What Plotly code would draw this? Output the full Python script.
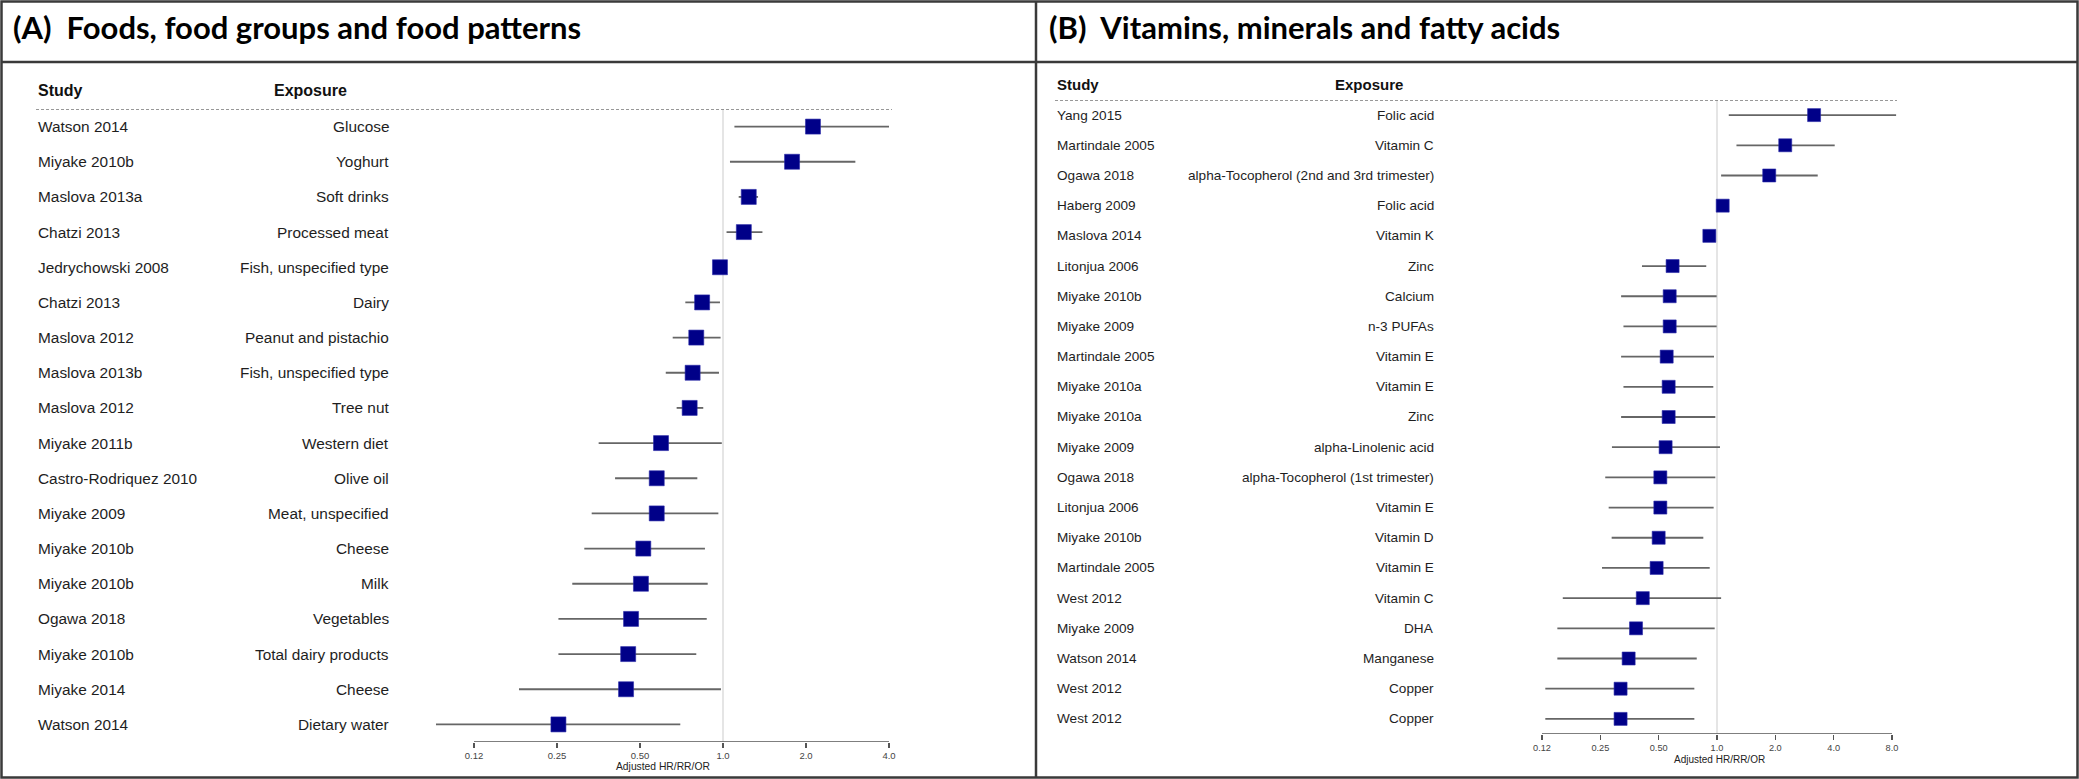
import math
import plotly.graph_objects as go

# ---------------- data ----------------
left_study = ["Watson 2014", "Miyake 2010b", "Maslova 2013a", "Chatzi 2013", "Jedrychowski 2008",
              "Chatzi 2013", "Maslova 2012", "Maslova 2013b", "Maslova 2012", "Miyake 2011b",
              "Castro-Rodriquez 2010", "Miyake 2009", "Miyake 2010b", "Miyake 2010b", "Ogawa 2018",
              "Miyake 2010b", "Miyake 2014", "Watson 2014"]
left_exposure = ["Glucose", "Yoghurt", "Soft drinks", "Processed meat", "Fish, unspecified type",
                 "Dairy", "Peanut and pistachio", "Fish, unspecified type", "Tree nut", "Western diet",
                 "Olive oil", "Meat, unspecified", "Cheese", "Milk", "Vegetables",
                 "Total dairy products", "Cheese", "Dietary water"]
left_est = [2.12, 1.78, 1.24, 1.19, 0.975, 0.84, 0.80, 0.776, 0.757, 0.596, 0.575, 0.575,
            0.514, 0.504, 0.464, 0.453, 0.445, 0.253]
left_lo = [1.10, 1.06, 1.14, 1.03, 0.95, 0.73, 0.657, 0.62, 0.679, 0.354, 0.406, 0.334,
           0.314, 0.284, 0.253, 0.253, 0.182, 0.091]
left_hi = [4.0, 3.02, 1.34, 1.39, 0.99, 0.975, 0.98, 0.967, 0.848, 0.99, 0.807, 0.962,
           0.86, 0.88, 0.873, 0.80, 0.983, 0.70]

right_study = ["Yang 2015", "Martindale 2005", "Ogawa 2018", "Haberg 2009", "Maslova 2014",
               "Litonjua 2006", "Miyake 2010b", "Miyake 2009", "Martindale 2005", "Miyake 2010a",
               "Miyake 2010a", "Miyake 2009", "Ogawa 2018", "Litonjua 2006", "Miyake 2010b",
               "Martindale 2005", "West 2012", "Miyake 2009", "Watson 2014", "West 2012", "West 2012"]
right_exposure = ["Folic acid", "Vitamin C", "alpha-Tocopherol (2nd and 3rd trimester)", "Folic acid",
                  "Vitamin K", "Zinc", "Calcium", "n-3 PUFAs", "Vitamin E", "Vitamin E", "Zinc",
                  "alpha-Linolenic acid", "alpha-Tocopherol (1st trimester)", "Vitamin E", "Vitamin D",
                  "Vitamin E", "Vitamin C", "DHA", "Manganese", "Copper", "Copper"]
right_est = [3.17, 2.25, 1.86, 1.07, 0.913, 0.59, 0.57, 0.57, 0.55, 0.563, 0.563, 0.543, 0.51,
             0.51, 0.50, 0.488, 0.414, 0.382, 0.35, 0.318, 0.318]
right_lo = [1.15, 1.26, 1.05, 1.04, 0.88, 0.41, 0.32, 0.329, 0.32, 0.329, 0.32, 0.287, 0.265,
            0.276, 0.286, 0.255, 0.16, 0.15, 0.15, 0.13, 0.13]
right_hi = [8.4, 4.05, 3.31, 1.10, 0.95, 0.88, 0.996, 0.996, 0.965, 0.957, 0.98, 1.036, 0.98,
            0.961, 0.85, 0.917, 1.05, 0.973, 0.786, 0.764, 0.764]

left_ticks = [0.125, 0.25, 0.5, 1.0, 2.0, 4.0]
left_ticktext = ["0.12", "0.25", "0.50", "1.0", "2.0", "4.0"]
right_ticks = [0.125, 0.25, 0.5, 1.0, 2.0, 4.0, 8.0]
right_ticktext = ["0.12", "0.25", "0.50", "1.0", "2.0", "4.0", "8.0"]

titles = ["(A)  Foods, food groups and food patterns", "(B)  Vitamins, minerals and fatty acids"]
axis_title = "Adjusted HR/RR/OR"

# ---------------- layout constants (pixels) ----------------
W, H = 2079, 779
NAVY = "#000088"
CI_COL = "#666666"
TXT = "#1e1e1e"
FONT = "Liberation Sans, Arial, sans-serif"


def px(x):
    return x / W


def py(y):
    return 1 - y / H


def log_range(d0, d1, one_px, per_doubling):
    l2 = math.log10(2)
    return [l2 * (d0 - one_px) / per_doubling, l2 * (d1 - one_px) / per_doubling]


panels = [
    dict(study=left_study, expo=left_exposure, est=left_est, lo=left_lo, hi=left_hi,
         ticks=left_ticks, ticktext=left_ticktext, xd=(415, 905), one=723, ppd=83.0,
         ytop=109, ybot=742, study_x=36, expo_x=391, head_study=36, head_expo=272, head_y=90,
         font=15.4, head_font=16, msize=15, dash_x=(36, 892), xtitle=(663, 766),
         tfont=9.5, title_x=11),
    dict(study=right_study, expo=right_exposure, est=right_est, lo=right_lo, hi=right_hi,
         ticks=right_ticks, ticktext=right_ticktext, xd=(1530, 1910), one=1717, ppd=58.33,
         ytop=100, ybot=734, study_x=1055, expo_x=1436, head_study=1055, head_expo=1333, head_y=84,
         font=13.6, head_font=15, msize=13, dash_x=(1055, 1897), xtitle=(1719, 759),
         tfont=9.2, title_x=1047),
]

fig = go.Figure()
shapes = []
annotations = []

for i, p in enumerate(panels):
    n = len(p["study"])
    rows = list(range(n))
    xa = "x" if i == 0 else "x2"
    ya = "y" if i == 0 else "y2"
    fig.add_trace(go.Scatter(
        x=p["est"], y=rows, xaxis=xa, yaxis=ya, mode="markers",
        marker=dict(symbol="square", size=p["msize"], color=NAVY,
                    line=dict(color="#2a2aa8", width=0.6)),
        error_x=dict(type="data", symmetric=False,
                     array=[h - e for h, e in zip(p["hi"], p["est"])],
                     arrayminus=[e - l for e, l in zip(p["est"], p["lo"])],
                     color=CI_COL, thickness=1.8, width=0),
        showlegend=False, hoverinfo="skip", cliponaxis=False))

    axkey = "xaxis" if i == 0 else "xaxis2"
    aykey = "yaxis" if i == 0 else "yaxis2"
    fig.update_layout(**{
        axkey: dict(type="log", domain=[px(p["xd"][0]), px(p["xd"][1])],
                    range=log_range(p["xd"][0], p["xd"][1], p["one"], p["ppd"]),
                    anchor=ya, showgrid=False, zeroline=False, showline=False,
                    tickmode="array", tickvals=p["ticks"], ticktext=p["ticktext"],
                    ticks="outside", ticklen=5, tickwidth=1.3, tickcolor="#555",
                    tickfont=dict(family=FONT, size=p["tfont"], color="#444")),
        aykey: dict(domain=[py(p["ybot"]), py(p["ytop"])], range=[n - 0.5, -0.5],
                    anchor=xa, visible=False, showgrid=False, zeroline=False),
    })

    # reference line at 1
    shapes.append(dict(type="line", xref=xa, yref=ya, x0=1, x1=1, y0=-0.5, y1=n - 0.5,
                       line=dict(color="#dcdcdc", width=1.5), layer="below"))
    # axis line
    shapes.append(dict(type="line", xref=xa, yref=ya, x0=p["ticks"][0], x1=p["ticks"][-1],
                       y0=n - 0.5, y1=n - 0.5, line=dict(color="#555", width=1.4)))
    # dashed header line
    shapes.append(dict(type="line", xref="paper", yref=ya, x0=px(p["dash_x"][0]),
                       x1=px(p["dash_x"][1]), y0=-0.5, y1=-0.5,
                       line=dict(color="#777", width=1.3, dash="3px,2px")))

    # row labels
    for r in rows:
        annotations.append(dict(xref="paper", yref=ya, x=px(p["study_x"]), y=r,
                                text=p["study"][r], showarrow=False, xanchor="left",
                                yanchor="middle", font=dict(family=FONT, size=p["font"], color=TXT)))
        annotations.append(dict(xref="paper", yref=ya, x=px(p["expo_x"]), y=r,
                                text=p["expo"][r], showarrow=False, xanchor="right",
                                yanchor="middle", font=dict(family=FONT, size=p["font"], color=TXT)))
    # headers
    for hx, ht in [(p["head_study"], "Study"), (p["head_expo"], "Exposure")]:
        annotations.append(dict(xref="paper", yref="paper", x=px(hx), y=py(p["head_y"]),
                                text="<b>" + ht + "</b>",
                                showarrow=False, xanchor="left", yanchor="middle",
                                font=dict(family=FONT, size=p["head_font"], color="#111")))
    # axis title
    annotations.append(dict(xref="paper", yref="paper", x=px(p["xtitle"][0]), y=py(p["xtitle"][1]),
                            text=axis_title, showarrow=False, xanchor="center", yanchor="middle",
                            font=dict(family=FONT, size=p["tfont"] + 0.8, color="#222")))
    # panel title
    annotations.append(dict(xref="paper", yref="paper", x=px(p["title_x"]), y=py(27),
                            text="<b>" + titles[i] + "</b>", showarrow=False, xanchor="left",
                            yanchor="middle", font=dict(family="Lato, sans-serif",
                                                        size=31, color="#000")))

# borders
BORDER = dict(color="#3a3a3a", width=2.5)
shapes.append(dict(type="rect", xref="paper", yref="paper", x0=px(1.5), x1=px(W - 1.5),
                   y0=py(H - 1.5), y1=py(1.5), line=BORDER))
shapes.append(dict(type="line", xref="paper", yref="paper", x0=px(1036), x1=px(1036),
                   y0=py(H - 1.5), y1=py(1.5), line=BORDER))
shapes.append(dict(type="line", xref="paper", yref="paper", x0=px(1.5), x1=px(W - 1.5),
                   y0=py(62), y1=py(62), line=BORDER))

fig.update_layout(width=W, height=H, margin=dict(l=0, r=0, t=0, b=0),
                  paper_bgcolor="white", plot_bgcolor="white",
                  shapes=shapes, annotations=annotations, showlegend=False)

fig.write_html("out.html", config={"displayModeBar": False, "staticPlot": True},
               post_script="document.body.style.margin='0';document.body.style.overflow='hidden';")
